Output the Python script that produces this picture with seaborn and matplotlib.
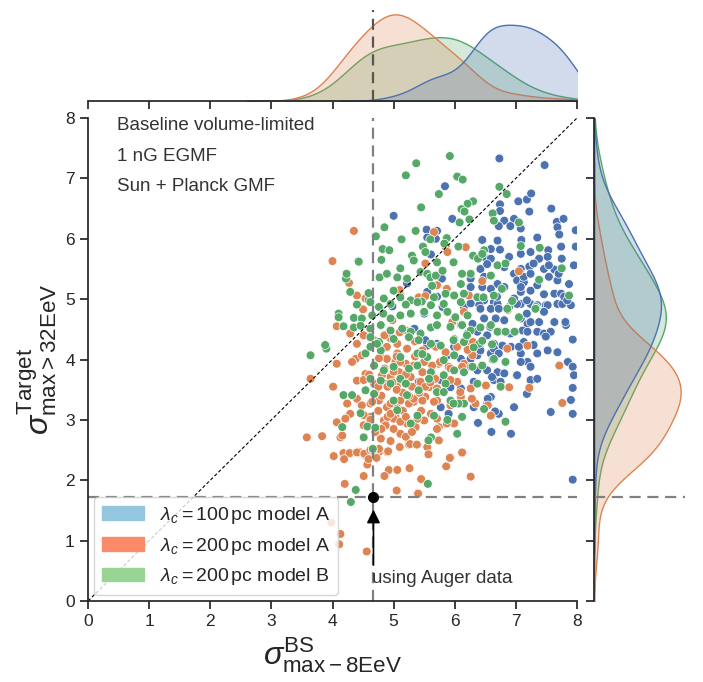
import numpy as np
import pandas as pd
import matplotlib
matplotlib.use("Agg")
import matplotlib.pyplot as plt
from matplotlib.patches import Patch
import seaborn as sns

# points, (sigma_BS, sigma_target)
pts_100A = [
    (6.73,7.33),(7.47,7.22),(5.84,6.87),(5.00,6.38),(5.96,6.33),(6.74,6.57),(6.74,6.46),(7.04,6.62),
    (7.18,6.65),(7.25,6.75),(7.22,6.45),(7.58,6.50),(7.67,6.28),(7.78,6.33),(7.68,6.19),(6.81,6.30),
    (6.97,6.33),(6.72,6.21),(6.91,6.21),(7.08,6.17),(5.54,6.15),(5.71,6.13),(5.55,6.02),(5.69,6.00),
    (6.45,5.98),(6.70,5.97),(7.09,5.98),(7.35,6.02),(7.71,6.07),(7.98,6.14),(6.59,5.83),(6.74,5.82),
    (7.08,5.75),(7.24,5.78),(7.53,5.81),(7.74,5.87),(7.98,5.87),(6.48,5.70),(6.59,5.67),(6.89,5.70),
    (7.38,5.67),(7.52,5.70),(7.75,5.67),(7.95,5.56),(6.42,5.50),(6.53,5.58),(6.81,5.53),(7.08,5.50),
    (7.22,5.54),(7.46,5.50),(7.63,5.49),(5.79,5.34),(6.26,5.34),(6.48,5.37),(6.70,5.25),(6.97,5.42),
    (7.02,5.31),(7.13,5.28),(7.35,5.23),(7.54,5.37),(7.68,5.31),(7.87,5.25),(6.26,5.20),(6.45,5.20),
    (6.59,5.17),(6.81,5.20),(7.08,5.12),(7.24,5.14),(7.46,5.08),(7.63,5.09),(7.74,5.09),(6.48,4.98),
    (6.64,4.95),(7.08,4.92),(7.24,4.92),(7.49,4.90),(7.68,4.92),(5.80,4.87),(6.15,4.87),
    (6.40,4.90),(6.59,4.84),(6.70,4.92),(7.02,4.92),(7.35,4.90),(7.52,4.90),(7.76,4.92),(7.90,4.90),
    (6.29,4.59),(6.48,4.68),(6.67,4.68),(6.81,4.65),(7.08,4.68),(7.19,4.59),(7.38,4.62),(7.63,4.62),
    (7.82,4.57),(6.21,4.43),(6.37,4.46),(6.53,4.40),(7.11,4.48),(7.19,4.46),(7.35,4.46),(7.46,4.43),
    (7.57,4.46),(7.93,4.33),(5.55,4.23),(5.99,4.21),(6.26,4.23),(6.42,4.26),(6.64,4.26),(6.78,4.23),
    (6.92,4.21),(7.13,4.29),(7.52,4.15),(7.68,4.12),(5.88,4.07),(6.10,4.01),(6.26,4.01),(6.37,4.07),
    (6.59,4.10),(6.64,4.18),(7.08,4.10),(7.35,4.10),(7.19,3.96),(7.24,3.88),(7.85,3.96),(7.93,3.88),
    (6.37,3.82),(6.53,3.82),(6.70,3.79),(7.02,3.74),(6.81,3.77),(5.41,3.63),(5.77,3.66),(6.31,3.63),
    (6.64,3.66),(7.24,3.66),(7.35,3.68),(7.95,3.74),(5.93,3.54),(6.10,3.52),(6.59,3.38),(7.93,3.53),
    (5.77,3.21),(6.31,3.21),(6.53,3.27),(6.72,3.10),(6.97,3.21),(7.57,3.13),(7.93,3.10),(7.90,3.33),
    (5.90,3.10),(6.60,2.80),(6.92,2.77),(7.93,2.01),
    (6.38,2.95),(6.66,3.14),(6.54,3.35),(6.61,3.71),(6.75,3.63),(7.18,3.43),(7.08,3.96),
    (7.29,5.59),(7.54,5.56),(7.13,5.37),(7.24,5.42),(7.70,5.42),(7.08,5.20),(7.79,5.04),(6.37,5.04),
    (6.69,5.04),(6.97,5.01),(6.26,4.93),(6.42,4.84),(6.72,4.84),(7.18,4.98),(7.84,4.98),(7.46,4.79),
    (7.18,4.76),(7.24,4.62),(7.81,4.62),(6.58,4.54),(6.72,4.46),(6.91,4.43),(7.49,4.38),(7.05,4.21),
    (7.29,4.24),(6.42,4.15),(6.72,4.10),
    (5.61,5.74),(5.22,5.26),(5.55,5.12),(5.71,5.04),(4.98,4.88),(5.50,4.76),(5.34,4.51),(5.52,4.32),
    (5.71,4.26),
]

pts_200A = [
    (4.35,6.13),(4.00,5.63),(5.66,6.11),(5.85,5.87),(5.88,5.78),(6.18,5.86),(5.52,5.59),(5.71,5.23),
    (6.45,5.30),(7.05,5.46),(4.27,5.27),(4.40,5.06),(4.54,5.01),(5.11,5.09),(5.41,5.03),(5.52,5.05),
    (6.23,5.06),
    (4.50,4.83),(4.51,4.40),(4.94,4.48),(4.98,4.65),(5.10,5.15),(5.20,4.48),(4.79,4.04),(4.38,4.01),
    (5.06,4.10),
    (4.07,4.55),(4.29,4.43),(4.68,4.32),(4.40,4.26),(4.89,4.21),(5.06,4.26),(5.22,4.18),(5.47,4.15),
    (5.69,4.21),(5.85,4.12),(6.04,4.21),(6.21,4.29),(6.29,4.07),(6.86,4.18),(7.19,4.23),(4.48,4.07),
    (4.07,3.93),(4.32,3.96),(4.89,4.01),(5.03,3.96),(5.20,3.93),(5.50,3.96),(5.74,3.93),(5.90,3.88),
    (6.15,3.93),(7.71,3.90),(3.64,3.68),(4.01,3.55),(4.40,3.65),(4.54,3.76),(4.81,3.74),(4.95,3.71),
    (5.09,3.79),(5.28,3.71),(5.47,3.79),(5.66,3.71),(6.04,3.63),(6.26,3.52),(6.51,3.57),(6.89,3.54),
    (7.22,3.53),(4.24,3.27),(4.62,3.27),(4.76,3.32),(4.89,3.21),(5.11,3.32),(5.33,3.30),(5.52,3.38),
    (5.58,3.54),(5.71,3.32),(6.10,3.38),(6.34,3.27),(7.76,3.28),(4.07,2.96),(4.29,3.10),(4.62,3.05),
    (4.84,2.99),(5.03,3.07),(5.22,2.94),(5.36,2.88),(5.50,2.99),(5.74,2.88),(5.99,2.94),(6.59,3.07),
    (3.58,2.71),(3.83,2.73),(4.13,2.71),(4.79,2.69),(5.11,2.77),(5.25,2.59),(5.39,2.59),(4.02,2.40),
    (4.18,2.43),(4.29,2.44),(4.43,2.47),(4.59,2.38),(4.89,2.47),(5.58,2.43),(5.93,2.38),(6.12,2.45),
    (4.76,4.02),(5.11,3.96),(5.33,3.90),(4.51,3.66),(4.68,3.60),(5.06,3.57),(5.17,3.63),(5.44,3.63),
    (5.52,3.55),(5.71,3.52),(4.40,3.35),(4.48,3.24),(4.95,3.27),(5.06,3.19),(5.25,3.27),(5.33,3.35),
    (5.47,3.32),(5.66,3.30),(4.21,3.02),(4.51,3.08),(4.62,3.00),(4.87,2.91),(5.00,3.02),(5.11,2.97),
    (5.39,3.02),(5.61,3.10),(4.16,2.74),(4.51,2.91),(5.20,2.72),(5.55,2.55),(5.71,2.85),(4.54,2.41),
    (4.76,2.47),
    (5.63,3.90),(5.76,3.96),(5.93,3.85),(6.12,3.88),(6.26,3.88),(5.68,3.68),(5.93,3.66),(6.09,3.46),
    (5.93,3.24),(6.28,3.35),(6.54,3.24),(5.71,3.02),(5.87,2.94),(5.74,2.66),
    (6.87,4.82),(6.30,4.29),(6.21,4.16),(5.87,5.17),(6.15,4.79),(5.96,4.62),
    (4.18,2.45),(4.28,2.45),(4.40,2.46),(4.52,2.44),(4.62,2.50),(4.76,2.52),(4.91,2.48),(4.19,2.35),
    (4.57,2.26),(4.59,2.35),(4.72,2.37),(5.27,2.60),(5.38,2.59),(5.57,2.43),(6.12,2.46),(5.92,2.37),
    (5.86,2.23),(5.26,2.20),(4.92,2.17),(5.06,2.17),(4.85,2.07),(4.51,2.07),(5.45,2.02),(6.26,2.06),
    (4.20,1.94),(5.05,1.83),(5.40,1.78),(3.98,1.30),(4.13,1.11),(4.11,0.94),(4.56,0.82),
    # partly hidden points in the dense core
    (4.85,3.85),(4.98,3.62),(5.15,3.45),(5.30,3.55),(5.42,3.45),(5.60,3.62),(4.80,3.40),(5.05,3.50),
    (4.65,3.30),(5.15,3.15),(4.85,3.60),(5.25,3.40),(4.90,3.05),(5.45,3.15),(5.20,3.05),(4.95,3.10),
    (4.75,3.15),(4.70,3.45),(4.90,3.55),(5.35,4.05),(5.55,4.05),(5.05,4.05),(4.60,3.75),(5.00,3.80),
    (5.20,3.75),(4.75,3.55),(5.00,2.85),(5.30,2.80),(4.80,2.85),(4.95,2.65),(5.10,2.55),(4.70,2.80),
    (4.95,4.35),(5.35,4.30),(4.85,4.40),(5.10,4.45),
]

pts_200B = [
    (5.92,7.37),(5.37,7.25),(5.20,7.05),(6.04,7.03),(6.13,6.98),(5.74,6.74),(5.45,6.52),(6.73,6.86),
    (6.85,6.74),(6.30,6.62),(6.21,6.58),(6.11,6.49),(6.16,6.45),(6.62,6.42),(6.64,6.30),(6.24,6.32),
    (6.08,6.27),(7.05,6.27),(4.85,6.19),(4.71,6.04),(5.36,6.13),(5.13,5.99),(5.60,5.99),(5.87,6.01),
    (4.82,5.83),(4.93,5.81),(5.48,5.87),(5.52,5.78),(5.83,5.92),(6.06,5.87),(6.48,5.81),(6.30,5.72),
    (7.08,5.88),(7.39,5.85),(4.42,5.63),(4.80,5.65),(5.30,5.72),(5.33,5.64),(5.71,5.61),(5.98,5.61),
    (6.38,5.67),(6.45,5.75),(6.70,5.56),(6.83,5.59),(4.22,5.34),(4.29,5.12),(4.77,5.36),(4.89,5.42),
    (5.06,5.36),(5.22,5.34),(5.44,5.45),(5.55,5.42),(5.60,5.36),(5.69,5.39),(5.80,5.47),(6.12,5.42),
    (6.26,5.42),(6.10,5.25),(6.59,5.39),(7.38,5.32),(7.75,5.51),(4.40,4.92),(4.59,4.98),(4.84,5.01),
    (5.00,5.14),(5.11,5.03),(5.28,4.98),(5.46,4.96),(5.66,5.03),(5.85,5.09),(5.99,5.06),(6.15,5.09),
    (6.37,5.03),(6.64,5.06),(6.89,4.87),(7.33,4.87),(7.87,5.06),
    (4.40,4.91),(4.62,4.95),(4.76,4.87),(4.95,4.92),(5.20,4.91),(5.39,4.95),(5.61,4.90),(5.82,4.92),
    (6.10,4.95),(6.86,4.84),(7.05,4.70),(7.33,4.84),(4.10,4.76),(4.35,4.69),(4.48,4.68),(4.65,4.73),
    (4.83,4.76),(4.95,4.68),(5.11,4.73),(5.28,4.76),(5.50,4.79),(5.71,4.73),(5.88,4.79),(6.01,4.70),
    (6.21,4.73),(4.18,4.55),(4.35,4.53),(4.62,4.51),(4.79,4.57),(4.95,4.48),(5.14,4.51),(5.28,4.46),
    (5.44,4.43),(5.61,4.53),(5.71,4.57),(5.93,4.54),(6.10,4.57),(6.26,4.48),(6.59,4.57),(6.70,4.46),
    (6.83,4.46),(6.98,4.46),(4.62,4.37),(4.76,4.29),(5.00,4.34),(5.25,4.37),(5.41,4.32),(5.61,4.26),
    (5.77,4.23),(5.99,4.34),(6.15,4.29),(6.40,4.26),(3.64,4.07),(3.90,4.18),(4.54,4.10),(4.62,4.21),
    (4.79,4.15),(5.11,4.04),(5.39,4.10),(5.55,4.04),(5.82,3.99),(5.99,4.07),(6.62,4.00),(6.83,3.96),
    (4.68,3.90),(4.84,3.82),(5.00,3.88),(5.25,3.85),(5.39,3.90),(5.61,3.79),(5.82,3.74),(5.99,3.82),
    (6.15,3.79),(6.29,3.88),(6.45,3.90),(4.62,3.68),(4.79,3.65),(4.95,3.60),(5.11,3.68),(5.20,3.60),
    (5.58,3.68),(5.85,3.60),(6.37,3.60),(6.75,3.55),(4.18,3.41),(4.32,3.41),(4.54,3.49),(4.68,3.43),
    (5.00,3.32),(5.22,3.41),(5.41,3.49),(5.71,3.46),(5.93,3.32),(6.15,3.27),(6.48,3.18),(4.46,3.11),
    (5.06,3.16),(5.39,3.07),(5.66,3.07),(5.88,3.00),(6.12,3.05),(4.16,2.88),(4.57,2.89),(4.70,2.87),
    (5.28,2.94),(6.04,2.77),(4.51,2.71),(5.61,2.71),(4.66,2.50),
    (4.66,2.52),(5.57,2.66),(4.38,1.84),(4.30,1.64),(5.56,1.94),
    (6.06,3.27),(6.83,2.97),(5.82,3.46),(5.98,3.27),
    (6.77,5.17),(6.47,5.03),(6.94,4.97),(7.32,4.84),(6.42,4.53),(6.61,4.25),(6.64,4.01),(6.12,4.57),
    (6.20,4.40),(5.98,4.32),(6.31,4.20),(6.45,4.31),
    (4.43,5.62),(5.11,5.51),(4.23,5.42),(4.59,5.10),(5.63,5.22),(4.10,4.70),(4.46,4.56),(3.88,4.24),
    (5.47,4.09),(4.73,4.26),
]

groups = ["100A", "200A", "200B"]
legend_labels = [r"$\lambda_c = 100\,$pc model A",
                 r"$\lambda_c = 200\,$pc model A",
                 r"$\lambda_c = 200\,$pc model B"]
legend_colors = ["#94c6e0", "#fb8a68", "#98d594"]

auger_x = 4.67
auger_y = 1.72

rows = []
for name, pts in zip(groups, [pts_100A, pts_200A, pts_200B]):
    for x, y in pts:
        rows.append((x, y, name))
df = pd.DataFrame(rows, columns=["bs", "target", "model"])

sns.set_theme(style="ticks")
plt.rcParams["font.family"] = ["Liberation Sans", "DejaVu Sans"]
plt.rcParams["mathtext.fontset"] = "custom"
plt.rcParams["mathtext.rm"] = "Liberation Sans"
plt.rcParams["mathtext.it"] = "Liberation Sans:italic"
plt.rcParams["mathtext.bf"] = "Liberation Sans:bold"

pal = sns.color_palette("deep", 3)
g = sns.JointGrid(data=df, x="bs", y="target", hue="model", hue_order=groups,
                  palette=pal, xlim=(0, 8), ylim=(0, 8), height=6.82)
g.plot_joint(sns.scatterplot, legend=False, s=40)
g.plot_marginals(sns.kdeplot, fill=True, legend=False, linewidth=1, alpha=0.25,
                 bw_adjust=1.2)

fig = g.figure
fig.set_size_inches(7.03, 6.82)
g.ax_joint.set_position([88/703, 81/682, 489/703, 483/682])
g.ax_marg_x.set_position([88/703, 581/682, 489/703, 91/682])
g.ax_marg_y.set_position([594/703, 81/682, 91/703, 483/682])

ax = g.ax_joint
ax.plot([0, 8], [0, 8], color="black", ls="--", lw=0.8, dashes=(3, 2))
ax.axvline(auger_x, color="gray", ls="--", lw=1.6, dashes=(5, 3))
ax.axhline(auger_y, color="gray", ls="--", lw=1.6, dashes=(5, 3))
g.ax_marg_x.axvline(auger_x, color="#555555", ls="--", lw=1.6, dashes=(5, 3))
g.ax_marg_y.axhline(auger_y, color="gray", ls="--", lw=1.6, dashes=(5, 3))
ax.plot(auger_x, auger_y, "o", color="black", ms=7)
ax.annotate("", xy=(auger_x, 1.56), xytext=(auger_x, 0.55),
            arrowprops=dict(arrowstyle="-|>", color="black", lw=1.2, mutation_scale=20))
ax.text(auger_x - 0.02, 0.37, "using Auger data", fontsize=13.5, ha="left", va="center",
        color="#333333")

for yy, txt in zip([7.87, 7.37, 6.87], ["Baseline volume-limited", "1 nG EGMF", "Sun + Planck GMF"]):
    ax.text(0.48, yy, txt, fontsize=13.5, ha="left", va="center", color="#333333")

ax.set_xticks(range(9))
ax.set_yticks(range(9))
ax.tick_params(labelsize=12.5)
ax.set_xlabel(r"$\sigma^{\rm BS}_{\rm max-8EeV}$", fontsize=23)
ax.set_ylabel(r"$\sigma^{\rm Target}_{\rm max > 32EeV}$", fontsize=23)

handles = [Patch(color=c, label=l) for c, l in zip(legend_colors, legend_labels)]
ax.legend(handles=handles, loc="lower left", fontsize=14, handlelength=2.2,
          borderaxespad=0.3)

fig.savefig("out.png", dpi=100)
